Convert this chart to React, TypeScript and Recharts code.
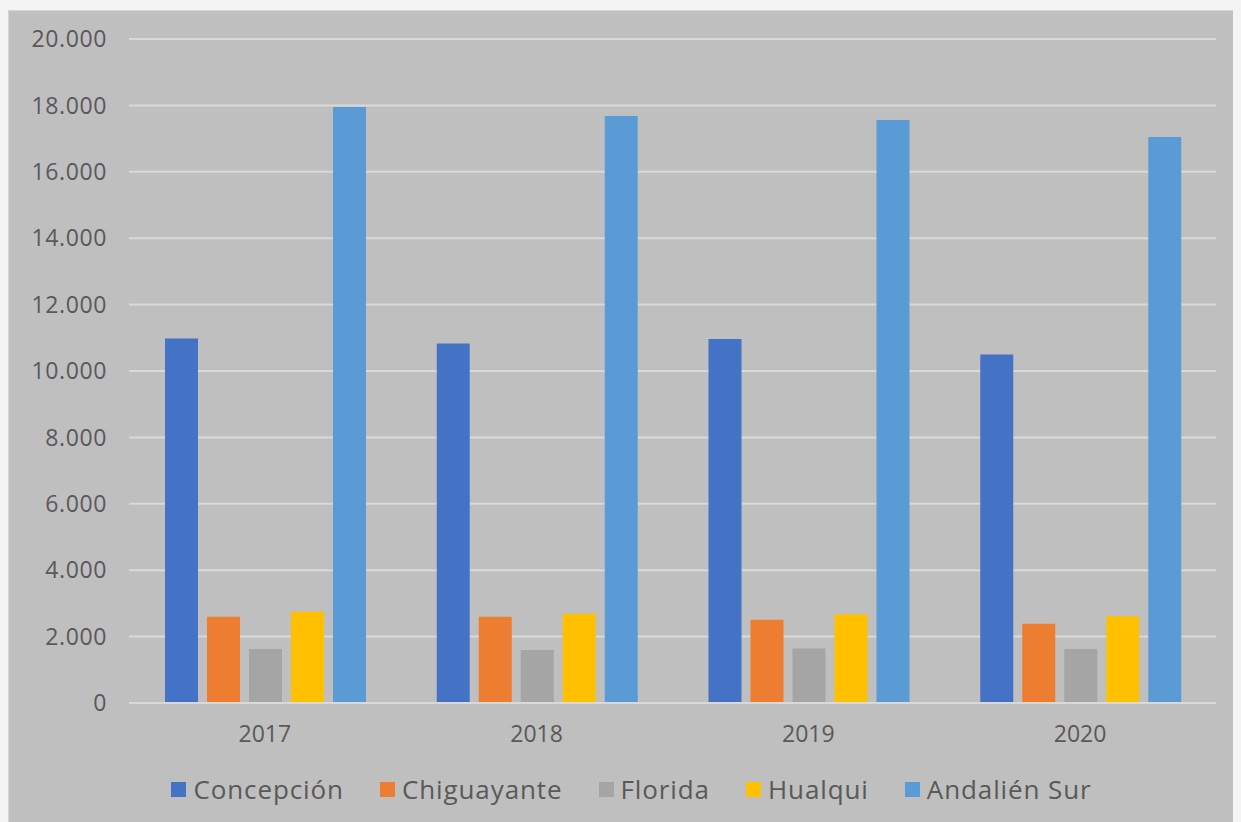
import React from "react";
import { BarChart, Bar, XAxis, YAxis, CartesianGrid, Legend } from "recharts";

const years = ["2017", "2018", "2019", "2020"];
const concepcion = [10980, 10830, 10965, 10500];
const chiguayante = [2595, 2595, 2505, 2385];
const florida = [1630, 1600, 1645, 1630];
const hualqui = [2745, 2685, 2670, 2610];
const andalienSur = [17950, 17680, 17560, 17045];
const yTicks = [0, 2000, 4000, 6000, 8000, 10000, 12000, 14000, 16000, 18000, 20000];

const series = [
  { key: "Concepción", values: concepcion, color: "#4472c4" },
  { key: "Chiguayante", values: chiguayante, color: "#ed7d31" },
  { key: "Florida", values: florida, color: "#a5a5a5" },
  { key: "Hualqui", values: hualqui, color: "#ffc000" },
  { key: "Andalién Sur", values: andalienSur, color: "#5b9bd5" },
];

const data = years.map((year, i) => {
  const row: any = { year };
  series.forEach((s) => {
    row[s.key] = s.values[i];
  });
  return row;
});

const fmt = (v: number) => String(v).replace(/\B(?=(\d{3})+(?!\d))/g, ".");

const textColor = "#595959";
const font = "'Open Sans', sans-serif";

const LegendBox = () => (
  <div
    style={{
      display: "flex",
      justifyContent: "center",
      alignItems: "center",
      height: 50,
      paddingLeft: 12,
      fontFamily: font,
      fontSize: 26,
      color: textColor,
      letterSpacing: 0.9,
    }}
  >
    {series.map((s, i) => (
      <div key={s.key} style={{ display: "flex", alignItems: "center", marginRight: i < series.length - 1 ? 36 : 0 }}>
        <span style={{ width: 15, height: 15, background: s.color, display: "inline-block", marginRight: 7 }} />
        <span>{s.key}</span>
      </div>
    ))}
  </div>
);

export default function App() {
  document.body.style.background = "#f4f4f4";
  document.body.style.overflow = "hidden";

  return (
    <div
      style={{
        marginTop: 2,
        width: 1240,
        height: 820,
        background: "#bfbfbf",
        borderTop: "1px solid #d4d4d4",
        borderLeft: "1px solid #d4d4d4",
        boxSizing: "border-box",
      }}
    >
      <BarChart
        width={1233}
        height={812}
        data={data}
        margin={{ top: 28, right: 26, bottom: 9, left: 0 }}
        barCategoryGap={36}
        barGap={9}
      >
        <CartesianGrid vertical={false} stroke="#d9d9d9" strokeWidth={2} />
        <XAxis
          dataKey="year"
          height={61}
          axisLine={{ stroke: "#d9d9d9", strokeWidth: 2 }}
          tickLine={false}
          tickMargin={17}
          tick={{ fill: textColor, fontSize: 23, fontFamily: font }}
        />
        <YAxis
          width={120}
          domain={[0, 20000]}
          ticks={yTicks}
          interval={0}
          axisLine={false}
          tickLine={false}
          tickMargin={16}
          tickFormatter={fmt}
          tick={{ fill: textColor, fontSize: 23, fontFamily: font, letterSpacing: 0.6 }}
        />
        <Legend
          verticalAlign="bottom"
          height={50}
          content={() => <LegendBox />}
          wrapperStyle={{ left: 0, width: 1233 }}
        />
        {series.map((s) => (
          <Bar key={s.key} dataKey={s.key} fill={s.color} isAnimationActive={false} />
        ))}
      </BarChart>
    </div>
  );
}
